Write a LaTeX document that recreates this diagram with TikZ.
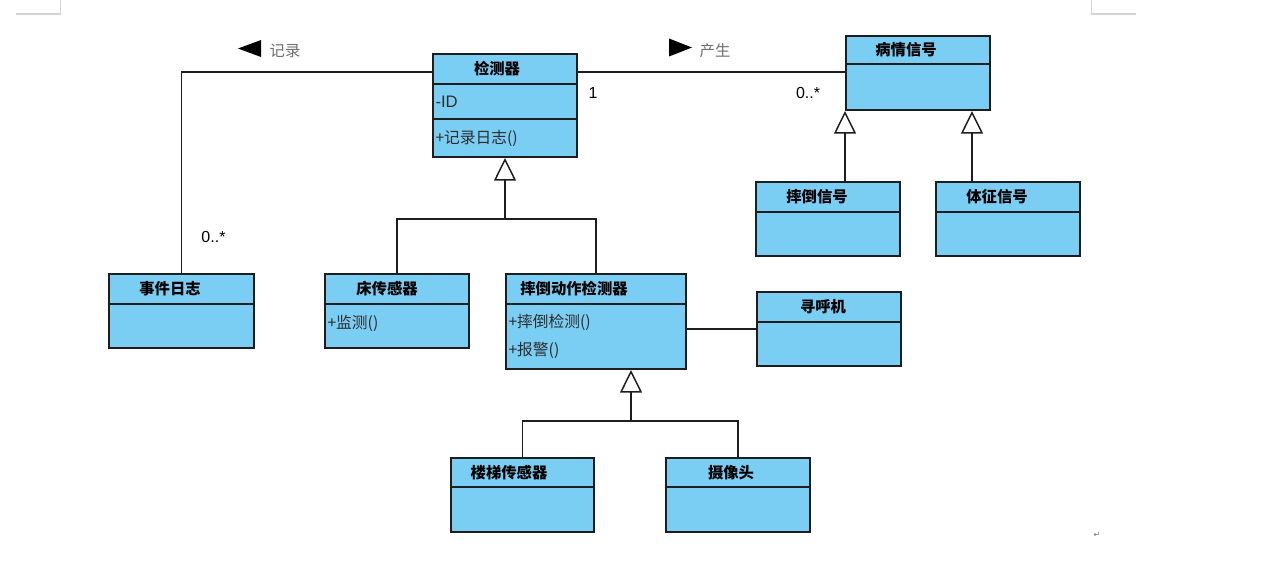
\documentclass[tikz,border=0pt]{standalone}
\usepackage{fontspec}
\setmainfont{Liberation Sans}
\newfontfamily\cjk{Noto Sans CJK SC}
\newfontfamily\dejavu{DejaVu Sans}
\usetikzlibrary{arrows.meta,fit}

\definecolor{clsfill}{RGB}{122,206,244}
\definecolor{clsline}{RGB}{30,30,30}
\definecolor{mthtext}{RGB}{45,45,45}
\definecolor{roletext}{RGB}{110,110,110}
\definecolor{markgray}{RGB}{212,212,212}

\tikzset{every picture/.style={line width=0.75pt}}
\tikzset{
  cls/.style={draw=clsline, fill=clsfill, line width=1.5pt, inner sep=0pt},
  sep/.style={draw=clsline, line width=1.5pt},
  ttl/.style={inner sep=0.75pt, font=\cjk\fontsize{11.5}{13}\selectfont\bfseries},
  mth/.style={anchor=west, inner sep=0.75pt, text=mthtext, font=\cjk\fontsize{11.8}{13}\selectfont},
  lbl/.style={inner sep=0.75pt, font=\fontsize{12}{14}\selectfont},
  role/.style={inner sep=0.75pt, text=roletext, font=\cjk\fontsize{11.5}{13}\selectfont},
  assoc/.style={draw=clsline, line width=1.3pt},
  inh/.style={assoc, -{Triangle[length=17pt, width=16.5pt, fill=white, line width=1.1pt]}}
}

\begin{document}
\begin{tikzpicture}[x=0.75pt,y=0.75pt,yscale=-1,xscale=1]
\useasboundingbox (0,0) rectangle (1281,563);

%Page corner marks
\draw[markgray, line width=1.1pt] (16,14) -- (60.5,14) -- (60.5,0);
\draw[markgray, line width=1.1pt] (1136,14) -- (1091.5,14) -- (1091.5,0);

%Shape: Class 检测器
\node (det) [cls, fit={(433,54) (577,157)}] {};
\draw[sep] (det.west |- 0,84) -- (det.east |- 0,84);
\draw[sep] (det.west |- 0,119) -- (det.east |- 0,119);
%Shape: Class 病情信号
\node (ill) [cls, fit={(846,36) (990,110)}] {};
\draw[sep] (ill.west |- 0,64) -- (ill.east |- 0,64);
%Shape: Class 摔倒信号
\node (fs) [cls, fit={(756,182) (900,256)}] {};
\draw[sep] (fs.west |- 0,212) -- (fs.east |- 0,212);
%Shape: Class 体征信号
\node (sg) [cls, fit={(936,182) (1080,256)}] {};
\draw[sep] (sg.west |- 0,212) -- (sg.east |- 0,212);
%Shape: Class 事件日志
\node (log) [cls, fit={(109,274) (254,348)}] {};
\draw[sep] (log.west |- 0,304) -- (log.east |- 0,304);
%Shape: Class 床传感器
\node (bed) [cls, fit={(325,274) (469,348)}] {};
\draw[sep] (bed.west |- 0,304) -- (bed.east |- 0,304);
%Shape: Class 摔倒动作检测器
\node (fall) [cls, fit={(506,274) (686,369)}] {};
\draw[sep] (fall.west |- 0,304) -- (fall.east |- 0,304);
%Shape: Class 寻呼机
\node (pager) [cls, fit={(757,292) (901,366)}] {};
\draw[sep] (pager.west |- 0,322) -- (pager.east |- 0,322);
%Shape: Class 楼梯传感器
\node (stair) [cls, fit={(451,458) (594,532)}] {};
\draw[sep] (stair.west |- 0,487) -- (stair.east |- 0,487);
%Shape: Class 摄像头
\node (cam) [cls, fit={(666,458) (810,532)}] {};
\draw[sep] (cam.west |- 0,487) -- (cam.east |- 0,487);

% Text Node
\node[ttl] (detT) at (497,69) {检测器};
\node[ttl] (illT) at (906,50) {病情信号};
\node[ttl] (fsT) at (817,197) {摔倒信号};
\node[ttl] (sgT) at (997,197) {体征信号};
\node[ttl] (logT) at (170,289) {事件日志};
\node[ttl] (bedT) at (387,289) {床传感器};
\node[ttl] (fallT) at (574,289) {摔倒动作检测器};
\node[ttl] (pagerT) at (823,307) {寻呼机};
\node[ttl] (stairT) at (509,472.5) {楼梯传感器};
\node[ttl] (camT) at (731,472.5) {摄像头};
% Text Node
\node[mth, font=\fontsize{12.5}{14}\selectfont] (detA) at (434,101.5) {-ID};
\node[mth] (detM) at (434,138) {+记录日志()};
\node[mth] (bedM) at (326,323) {+监测()};
\node[mth] (fallM1) at (507,322) {+摔倒检测()};
\node[mth] (fallM2) at (507,350) {+报警()};

%Associations
\draw[assoc] (det.west |- 0,72) -| (log.north);
\draw[assoc] (det.east |- 0,72) -- (ill.west |- 0,72);
\draw[assoc] (fall.east |- 0,329) -- (pager.west |- 0,329);

%Generalizations
\coordinate (jdet) at (505,219);
\draw[assoc] (bed.north) |- (jdet) -| (fall.north);
\draw[inh] (jdet) -- (det.south);
\coordinate (jfall) at (631,421);
\draw[assoc] (stair.north) |- (jfall) -| (cam.north);
\draw[inh] (jfall) -- (jfall |- fall.south);
\draw[inh] (fs.north -| ill.west) -- (ill.south west);
\draw[inh] (sg.north -| 972,0) -- (972,0 |- ill.south);

% Text Node
\node[lbl] (m1) at (593,93) {1};
\node[lbl] (m2) at (808,93) {0..*};
\node[lbl] (m3) at (213.5,237) {0..*};
\node[role] (r1) at (285,51) {记录};
\node[role] (r2) at (715,51) {产生};
\fill (238,48.5) -- (261,40) -- (261,57) -- cycle;
\fill (692,47.5) -- (669,38.5) -- (669,56.5) -- cycle;

% Text Node
\node[inner sep=0pt, text=roletext, font=\dejavu\fontsize{6}{7}\selectfont] (ret) at (1097,535) {↵};

\end{tikzpicture}
\end{document}
